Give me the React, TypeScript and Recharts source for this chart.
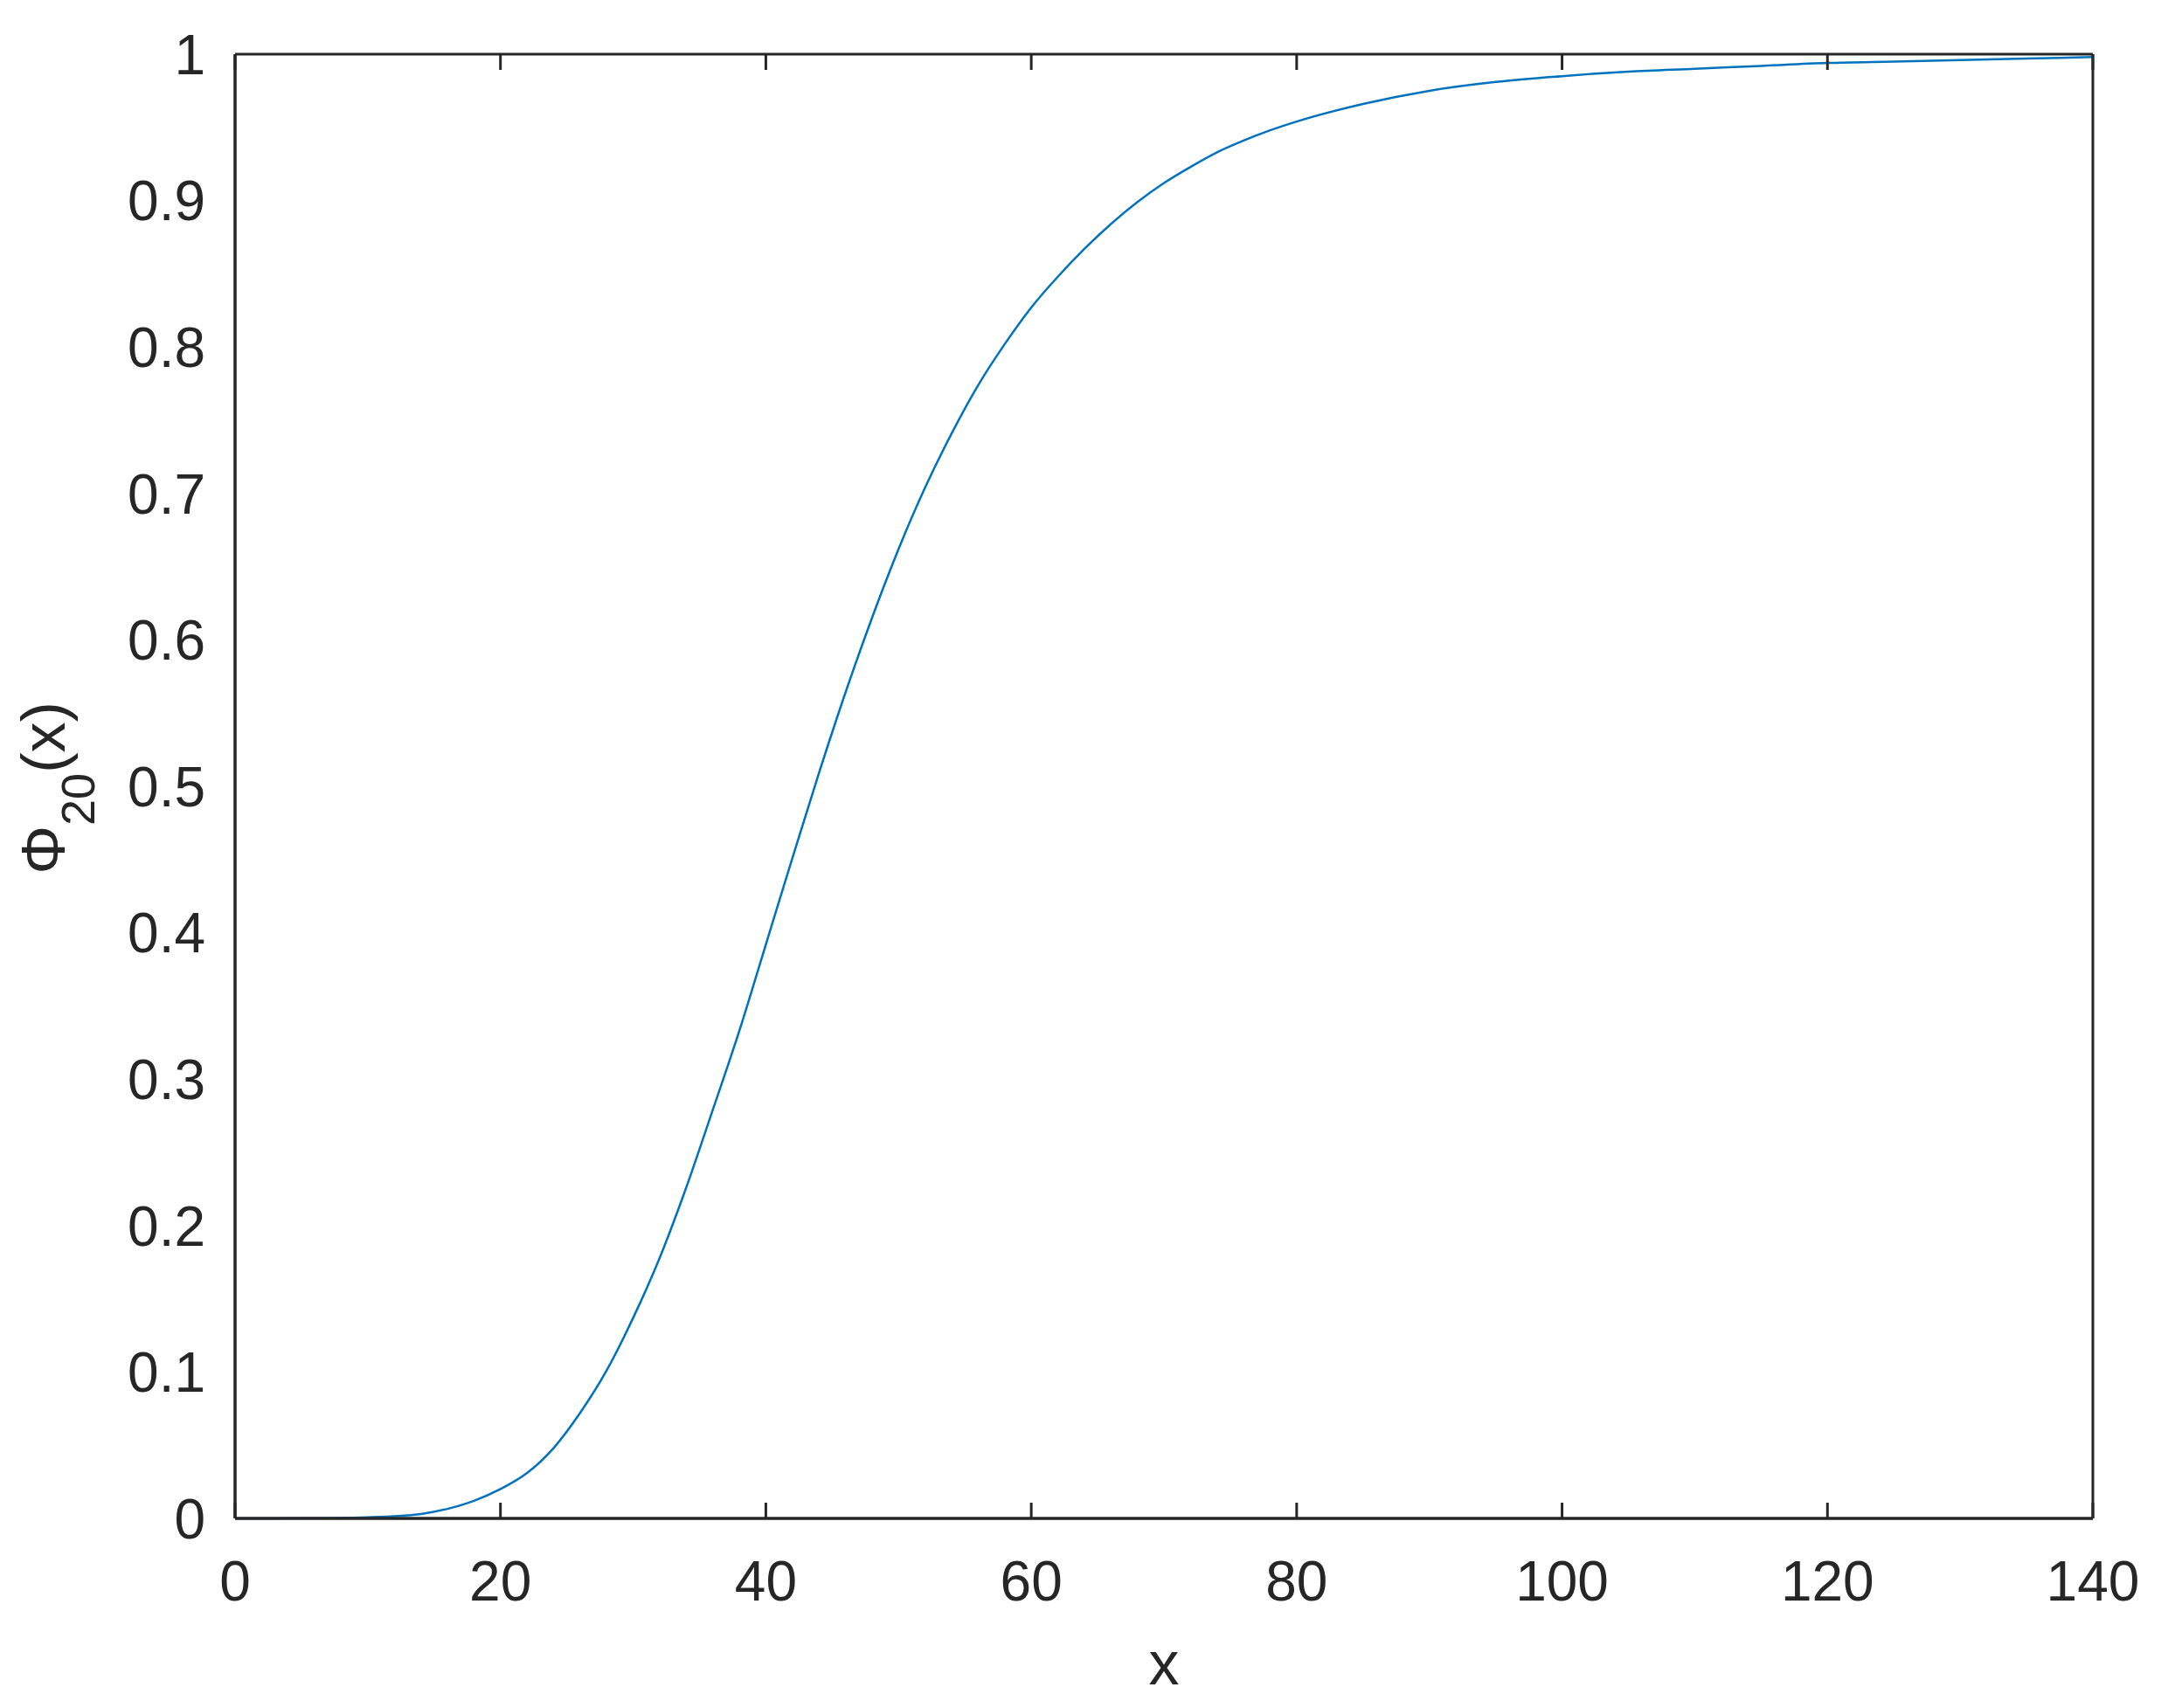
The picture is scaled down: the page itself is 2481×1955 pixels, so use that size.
import React from 'react';
import { LineChart, Line, XAxis, YAxis } from 'recharts';

const xValues = [0, 5, 10, 12, 14, 16, 18, 20, 22, 24, 26, 28, 30, 32, 34, 36, 38, 40, 42, 44, 46, 48, 50, 52, 54, 56, 58, 60, 62, 64, 66, 68, 70, 72, 74, 76, 78, 80, 85, 90, 95, 100, 105, 110, 115, 120, 125, 130, 135, 140];
const phiValues = [0, 0.0001, 0.0008, 0.0015, 0.003, 0.0065, 0.012, 0.02, 0.031, 0.048, 0.072, 0.101, 0.137, 0.178, 0.226, 0.279, 0.333, 0.392, 0.451, 0.509, 0.564, 0.615, 0.662, 0.704, 0.741, 0.774, 0.802, 0.827, 0.848, 0.867, 0.884, 0.899, 0.912, 0.923, 0.933, 0.941, 0.948, 0.954, 0.966, 0.975, 0.981, 0.985, 0.988, 0.99, 0.992, 0.994, 0.995, 0.996, 0.997, 0.998];
const xTicks = [0, 20, 40, 60, 80, 100, 120, 140];
const yTicks = [0, 0.1, 0.2, 0.3, 0.4, 0.5, 0.6, 0.7, 0.8, 0.9, 1];

const data = xValues.map((x, i) => ({ x, phi: phiValues[i] }));

const FONT = '"Liberation Sans", Arial, Helvetica, sans-serif';
const AXIS = '#262626';

const YLabel = () => (
  <text transform="translate(74, 902) rotate(-90)" textAnchor="middle" fontFamily={FONT} fontSize={70} fill={AXIS}>
    <tspan>Φ</tspan>
    <tspan fontSize={54} dy={34}>20</tspan>
    <tspan dy={-34}>(x)</tspan>
  </text>
);

const XLabel = () => (
  <text x={1332} y={1928} textAnchor="middle" fontFamily={FONT} fontSize={70} fill={AXIS}>x</text>
);

const Empty = () => <g />;

const tickLineStyle = { stroke: AXIS, strokeWidth: 3 };
const axisLineStyle = { stroke: AXIS, strokeWidth: 3 };

export default function App() {
  return (
    <div style={{ position: 'absolute', left: 0, top: 0, width: 2481, height: 1955, background: '#fff' }}>
      <LineChart width={2481} height={1955} data={data} margin={{ top: 62, right: 86, bottom: 67, left: 69 }}>
        {/* labelled axes (no tick lines) */}
        <XAxis
          xAxisId="b"
          dataKey="x"
          type="number"
          domain={[0, 140]}
          ticks={xTicks}
          height={150}
          tickSize={0}
          tickMargin={49}
          tickLine={false}
          axisLine={axisLineStyle}
          tick={{ fill: AXIS, fontSize: 64, fontFamily: FONT }}
          label={<XLabel />}
        />
        <YAxis
          yAxisId="l"
          type="number"
          domain={[0, 1]}
          ticks={yTicks}
          width={200}
          tickSize={0}
          tickMargin={34}
          tickLine={false}
          axisLine={axisLineStyle}
          tick={{ fill: AXIS, fontSize: 64, fontFamily: FONT }}
          label={<YLabel />}
        />
        {/* mirrored axes: inward tick marks and the box */}
        <XAxis
          xAxisId="bm"
          dataKey="x"
          type="number"
          domain={[0, 140]}
          ticks={xTicks}
          mirror
          height={30}
          tickSize={18}
          tickLine={tickLineStyle}
          axisLine={axisLineStyle}
          tick={<Empty />}
        />
        <XAxis
          xAxisId="tm"
          orientation="top"
          dataKey="x"
          type="number"
          domain={[0, 140]}
          ticks={xTicks}
          mirror
          height={30}
          tickSize={18}
          tickLine={tickLineStyle}
          axisLine={axisLineStyle}
          tick={<Empty />}
        />
        <YAxis
          yAxisId="lm"
          type="number"
          domain={[0, 1]}
          ticks={yTicks}
          mirror
          width={30}
          tickSize={18}
          tickLine={tickLineStyle}
          axisLine={axisLineStyle}
          tick={<Empty />}
        />
        <YAxis
          yAxisId="rm"
          orientation="right"
          type="number"
          domain={[0, 1]}
          ticks={yTicks}
          mirror
          width={30}
          tickSize={18}
          tickLine={tickLineStyle}
          axisLine={axisLineStyle}
          tick={<Empty />}
        />
        <Line
          xAxisId="b"
          yAxisId="l"
          dataKey="phi"
          type="monotone"
          stroke="#0072BD"
          strokeWidth={2.5}
          dot={false}
          isAnimationActive={false}
        />
      </LineChart>
    </div>
  );
}
